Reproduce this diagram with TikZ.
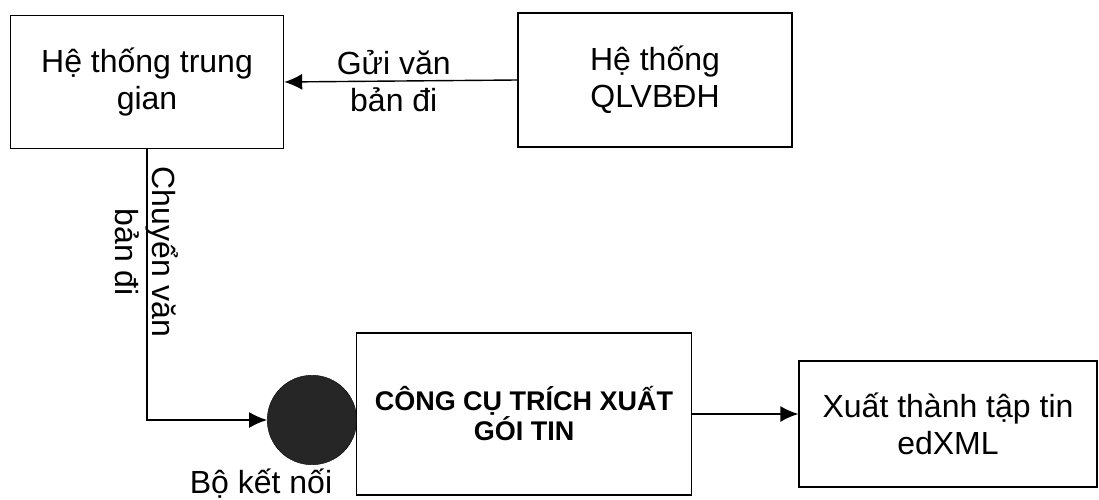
\documentclass[tikz,border=0pt]{standalone}
\usepackage{fontspec}
\setmainfont{Liberation Sans}
\usetikzlibrary{arrows.meta}

\def\lw{1.4pt}

\tikzset{
	khoi/.style={draw, line width=\lw, align=center, inner sep=0pt, font=\fontsize{32}{37}\selectfont},
	muiten/.style={line width=\lw, -{Latex[length=18pt, width=16pt]}},
	nhan/.style={align=center, font=\fontsize{32}{37}\selectfont}
}

\begin{document}
\begin{tikzpicture}[x=1pt, y=-1pt]
			\useasboundingbox (0,0) rectangle (1099,500);
			
			% cac khoi
			\node[khoi, minimum width=273, minimum height=133] (trunggian) at (147,82) {Hệ thống trung\\gian};
			\node[khoi, minimum width=274, minimum height=134] (qlvb) at (655,80) {Hệ thống\\QLVBĐH};
			\node[khoi, minimum width=335, minimum height=162, font=\fontsize{27}{30}\selectfont\bfseries] (congcu) at (524,414) {CÔNG CỤ TRÍCH XUẤT\\GÓI TIN};
			\node[khoi, minimum width=298, minimum height=126] (edxml) at (948,424) {Xuất thành tập tin\\edXML};
			
			% bo ket noi
			\node[circle, draw, fill=black!85, minimum size=89.5, inner sep=0pt] (ketnoi) at (312,420) {};
			\node[nhan, anchor=base] (tenketnoi) at (261,493) {Bộ kết nối};
			\coordinate (goc) at (trunggian.south |- ketnoi.west);
			
			% cac mui ten
			\draw[muiten] (qlvb.west) -- (trunggian.east) node[nhan, pos=0.53] {Gửi văn\\bản đi};
			\draw[muiten] (trunggian.south) -- node[nhan, rotate=-90, pos=0.38] {Chuyển văn\\bản đi} (goc) -- (ketnoi.west);
			\draw[muiten] (congcu.east) -- (congcu.east -| edxml.west);
		\end{tikzpicture}
\end{document}
